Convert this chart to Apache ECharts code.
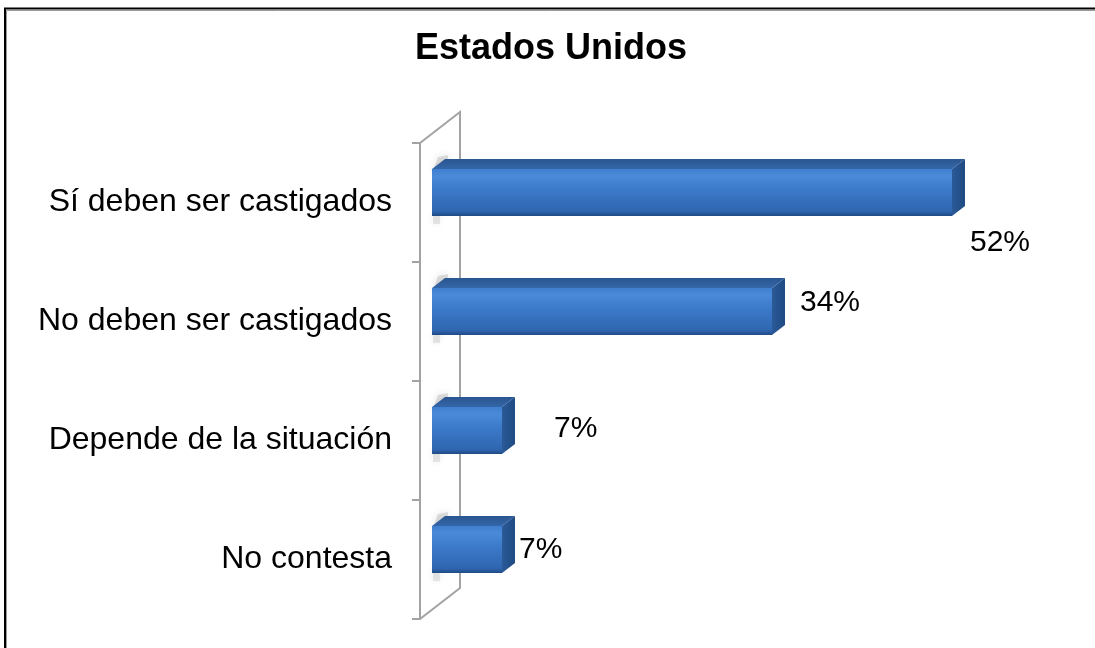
<!DOCTYPE html>
<html>
<head>
<meta charset="utf-8">
<script src="https://cdn.jsdelivr.net/npm/echarts@6/dist/echarts.min.js"></script>
<style>
html,body{margin:0;padding:0;background:#fff;}
#chart{width:1095px;height:648px;}
</style>
</head>
<body>
<div id="chart"></div>
<script>
const titleText = 'Estados Unidos';
const categories = ['Sí deben ser castigados', 'No deben ser castigados', 'Depende de la situación', 'No contesta'];
const values = [52, 34, 7, 7];
const valueLabels = ['52%', '34%', '7%', '7%'];

// layout (label offsets relative to bar end / face centre) – not data
const labelOffsets = [[18, 50], [28, -9], [52, -2], [17, 0]];

const FONT = "'Liberation Sans', Arial, sans-serif";
const AXIS_GRAY = '#a3a3a3';
const DX = 13, DY = -10;

const chart = echarts.init(document.getElementById('chart'), null, {renderer: 'canvas'});

function renderItem(params, api) {
  const idx = api.value(1);
  const v = api.value(0);
  const base = api.coord([0, idx]);
  const end = api.coord([v, idx]);
  const band = api.size([0, 1])[1];
  const h = band * 0.395;
  const cy = base[1] - band * 0.084;
  const top = cy - h / 2, bot = cy + h / 2;
  const x0 = base[0], x1 = end[0];
  const cs = params.coordSys;
  const children = [];

  if (params.dataIndex === 0) {
    const fx = cs.x - 12;
    const t = cs.y, b = cs.y + cs.height;
    const bx = fx + 40, off = -31;
    children.push({type: 'polyline', shape: {points: [[fx, t], [bx, t + off], [bx, b + off], [fx, b]]},
      style: {stroke: AXIS_GRAY, lineWidth: 2, fill: null}, z2: 1});
  }
  // soft shadow on the wall (upper part)
  children.push({type: 'polygon', shape: {points: [[x0 + 1, top + 2], [x0 + 6, top - 12], [x0 + 16, top - 14], [x0 + 16, top + 4]]},
    style: {fill: 'rgba(170,170,170,0.35)', shadowBlur: 8, shadowColor: 'rgba(0,0,0,0.3)'}, z2: 2});
  // lower part
  children.push({type: 'rect', shape: {x: x0 + 1, y: bot - 6, width: 7, height: 14},
    style: {fill: 'rgba(180,180,180,0.3)', shadowBlur: 7, shadowColor: 'rgba(0,0,0,0.25)'}, z2: 2});
  // top face
  children.push({type: 'polygon', shape: {points: [[x0, top], [x1, top], [x1 + DX, top + DY], [x0 + DX, top + DY]]},
    style: {fill: {type: 'linear', x: 0, y: 0, x2: 0, y2: 1, colorStops: [{offset: 0, color: '#2a5690'}, {offset: 1, color: '#3466a8'}]}}, z2: 3});
  // side face
  children.push({type: 'polygon', shape: {points: [[x1, top], [x1 + DX, top + DY], [x1 + DX, bot + DY], [x1, bot]]},
    style: {fill: {type: 'linear', x: 0, y: 0, x2: 1, y2: 0, colorStops: [{offset: 0, color: '#2a5a98'}, {offset: 1, color: '#1f4a82'}]}}, z2: 3});
  // front face
  children.push({type: 'rect', shape: {x: x0, y: top, width: x1 - x0, height: h},
    style: {fill: {type: 'linear', x: 0, y: 0, x2: 0, y2: 1, colorStops: [
      {offset: 0, color: '#3f7fcf'}, {offset: 0.15, color: '#4a8ad9'}, {offset: 0.45, color: '#3b79c9'},
      {offset: 0.9, color: '#2f66b0'}, {offset: 1, color: '#1f4a84'}]}}, z2: 4});
  // label
  const lo = labelOffsets[idx];
  children.push({type: 'text', x: x1 + lo[0], y: cy + lo[1],
    style: {text: valueLabels[idx], fontSize: 30, fontFamily: FONT, fill: '#000', align: 'left', verticalAlign: 'middle'}, z2: 5});
  return {type: 'group', children: children};
}

chart.setOption({
  backgroundColor: '#ffffff',
  animation: false,
  title: {
    text: titleText, left: 415, top: 29, padding: 0,
    textStyle: {fontSize: 36, fontWeight: 'bold', fontFamily: FONT, color: '#000', lineHeight: 40}
  },
  grid: {left: 432, right: 63, top: 143, bottom: 29, containLabel: false},
  xAxis: {type: 'value', min: 0, max: 60, show: false},
  yAxis: {
    type: 'category', data: categories, inverse: true, offset: 12,
    axisLine: {show: true, onZero: false, lineStyle: {color: AXIS_GRAY, width: 2}},
    axisTick: {show: true, length: 8, lineStyle: {color: AXIS_GRAY, width: 2}},
    axisLabel: {margin: 28, fontSize: 32, fontFamily: FONT, color: '#000'},
    splitLine: {show: false}
  },
  graphic: [
    {type: 'polyline', shape: {points: [[5, 648], [5, 8.5], [1095, 8.5]]}, style: {stroke: '#000', lineWidth: 2, fill: null}, z: 100},
    {type: 'polyline', shape: {points: [[6.5, 648], [6.5, 10.5], [1095, 10.5]]}, style: {stroke: '#9a9a9a', lineWidth: 1, fill: null}, z: 100}
  ],
  series: [{
    type: 'custom',
    renderItem: renderItem,
    data: values.map((v, i) => [v, i]),
    encode: {x: 0, y: 1},
    clip: false
  }]
});
</script>
</body>
</html>
